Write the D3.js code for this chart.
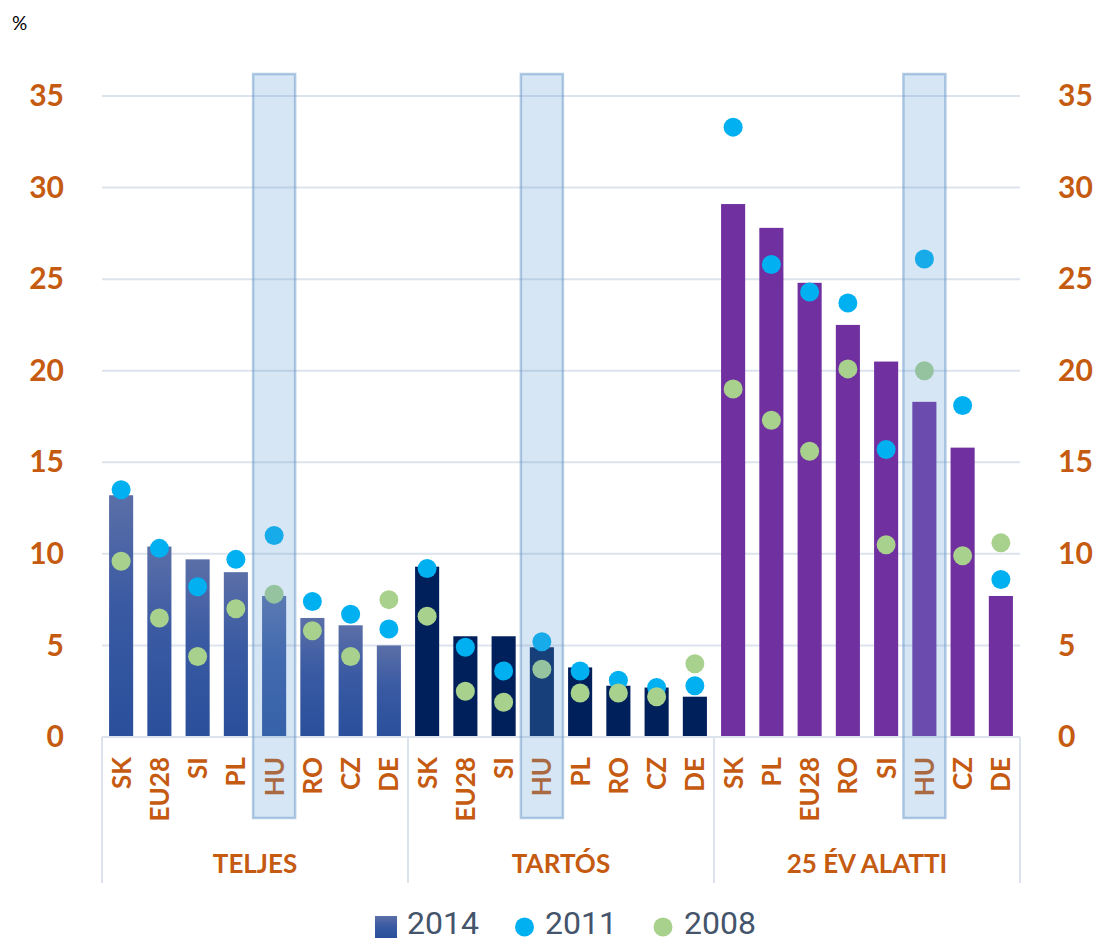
<!DOCTYPE html>
<html>
<head>
<meta charset="utf-8">
<script src="https://cdn.jsdelivr.net/npm/d3@7"></script>
<style>
  body { margin: 0; background: #fff; }
  svg { display: block; }
</style>
</head>
<body>
<div id="container"></div>
<script>
// chart data
const groups = ["TELJES", "TARTÓS", "25 ÉV ALATTI"];
const countriesTeljes = ["SK", "EU28", "SI", "PL", "HU", "RO", "CZ", "DE"];
const countriesTartos = ["SK", "EU28", "SI", "HU", "PL", "RO", "CZ", "DE"];
const countriesYouth = ["SK", "PL", "EU28", "RO", "SI", "HU", "CZ", "DE"];

const values2014 = [13.2, 10.4, 9.7, 9.0, 7.7, 6.5, 6.1, 5.0,
                    9.3, 5.5, 5.5, 4.9, 3.8, 2.8, 2.7, 2.2,
                    29.1, 27.8, 24.8, 22.5, 20.5, 18.3, 15.8, 7.7];
const values2011 = [13.5, 10.3, 8.2, 9.7, 11.0, 7.4, 6.7, 5.9,
                    9.2, 4.9, 3.6, 5.2, 3.6, 3.1, 2.7, 2.8,
                    33.3, 25.8, 24.3, 23.7, 15.7, 26.1, 18.1, 8.6];
const values2008 = [9.6, 6.5, 4.4, 7.0, 7.8, 5.8, 4.4, 7.5,
                    6.6, 2.5, 1.9, 3.7, 2.4, 2.4, 2.2, 4.0,
                    19.0, 17.3, 15.6, 20.1, 10.5, 20.0, 9.9, 10.6];
const yTicks = [0, 5, 10, 15, 20, 25, 30, 35];
const seriesNames = ["2014", "2011", "2008"];
const highlightCountry = "HU";

const width = 1098;
const height = 941;
const margin = { top: 96, bottom: 200, left: 102, right: 78 };

const orange = "#c55a11";
const gridColor = "#dde3ec";
const labelFont = "Lato, 'Open Sans', sans-serif";

const countryLists = [countriesTeljes, countriesTartos, countriesYouth];
const data = [];
countryLists.forEach((list, g) => {
    list.forEach((c, i) => {
        const idx = data.length;
        data.push({
            key: g + "-" + c,
            group: g,
            country: c,
            v2014: values2014[idx],
            v2011: values2011[idx],
            v2008: values2008[idx]
        });
    });
});

const svg = d3.select("#container")
    .append("svg")
    .attr("width", width)
    .attr("height", height)
    .attr("viewBox", [0, 0, width, height]);

const defs = svg.append("defs");
const grad = defs.append("linearGradient")
    .attr("id", "blueGrad")
    .attr("x1", 0).attr("y1", 0).attr("x2", 0).attr("y2", 1);
grad.append("stop").attr("offset", "0%").attr("stop-color", "#5b6fa8");
grad.append("stop").attr("offset", "45%").attr("stop-color", "#3a5aa3");
grad.append("stop").attr("offset", "100%").attr("stop-color", "#2a4f9b");

const x = d3.scaleBand()
    .domain(data.map(d => d.key))
    .range([margin.left, width - margin.right])
    .paddingInner(0.37)
    .paddingOuter(0.185);

const y = d3.scaleLinear()
    .domain([0, 35])
    .range([height - margin.bottom - 4, margin.top]);

const groupScale = d3.scaleBand()
    .domain(d3.range(groups.length))
    .range([margin.left, width - margin.right]);

// gridlines
svg.append("g")
    .attr("class", "grid")
    .selectAll("line")
    .data(yTicks.filter(t => t > 0))
    .join("line")
    .attr("x1", margin.left)
    .attr("x2", width - margin.right)
    .attr("y1", d => y(d))
    .attr("y2", d => y(d))
    .attr("stroke", gridColor)
    .attr("stroke-width", 2);

// left and right y axes
const yLeft = svg.append("g")
    .attr("transform", `translate(${margin.left - 38}, 0)`)
    .call(d3.axisLeft(y).tickValues(yTicks).tickSize(0).tickPadding(0));
const yRight = svg.append("g")
    .attr("transform", `translate(${width - margin.right + 38}, 0)`)
    .call(d3.axisRight(y).tickValues(yTicks).tickSize(0).tickPadding(0));
[yLeft, yRight].forEach(ax => {
    ax.select(".domain").remove();
    ax.selectAll("text")
        .attr("fill", orange)
        .attr("font-family", labelFont)
        .attr("font-weight", "bold")
        .attr("font-size", "30px");
});

svg.append("text")
    .attr("x", 12)
    .attr("y", 30)
    .attr("font-family", labelFont)
    .attr("font-size", "19px")
    .attr("fill", "#000")
    .text("%");

// bars
const barColor = d => d.group === 0 ? "url(#blueGrad)" : (d.group === 1 ? "#00205c" : "#7030a0");
svg.append("g")
    .selectAll("rect")
    .data(data)
    .join("rect")
    .attr("x", d => x(d.key))
    .attr("y", d => y(d.v2014))
    .attr("width", x.bandwidth())
    .attr("height", d => y(0) - y(d.v2014))
    .attr("fill", barColor);

// dots
const cx = d => x(d.key) + x.bandwidth() / 2;
svg.append("g")
    .selectAll("circle")
    .data(data)
    .join("circle")
    .attr("cx", cx)
    .attr("cy", d => y(d.v2011))
    .attr("r", 9.5)
    .attr("fill", "#00b0f0");
svg.append("g")
    .selectAll("circle")
    .data(data)
    .join("circle")
    .attr("cx", cx)
    .attr("cy", d => y(d.v2008))
    .attr("r", 9.5)
    .attr("fill", "#a9d18e");

// category axis
const axisY = y(0);
svg.append("line")
    .attr("x1", margin.left).attr("x2", width - margin.right)
    .attr("y1", axisY).attr("y2", axisY)
    .attr("stroke", gridColor).attr("stroke-width", 2);

svg.append("g")
    .selectAll("line")
    .data(d3.range(groups.length + 1))
    .join("line")
    .attr("x1", i => margin.left + i * groupScale.bandwidth())
    .attr("x2", i => margin.left + i * groupScale.bandwidth())
    .attr("y1", axisY)
    .attr("y2", axisY + 146)
    .attr("stroke", gridColor)
    .attr("stroke-width", 2);

svg.append("g")
    .selectAll("text")
    .data(data)
    .join("text")
    .attr("transform", d => `translate(${cx(d) + 9.5}, ${axisY + 20}) rotate(-90)`)
    .attr("text-anchor", "end")
    .attr("fill", orange)
    .attr("font-family", labelFont)
    .attr("font-weight", "bold")
    .attr("font-size", "26px")
    .text(d => d.country);

svg.append("g")
    .selectAll("text")
    .data(groups)
    .join("text")
    .attr("x", (d, i) => groupScale(i) + groupScale.bandwidth() / 2)
    .attr("y", axisY + 136)
    .attr("text-anchor", "middle")
    .attr("fill", orange)
    .attr("font-family", labelFont)
    .attr("font-weight", "bold")
    .attr("font-size", "26px")
    .text(d => d);

// highlight boxes around HU, drawn on top
const hu = data.filter(d => d.country === highlightCountry);
svg.append("g")
    .selectAll("rect")
    .data(hu)
    .join("rect")
    .attr("x", d => cx(d) - 21)
    .attr("y", 74)
    .attr("width", 42)
    .attr("height", 744)
    .attr("fill", "#5b9bd5")
    .attr("fill-opacity", 0.25)
    .attr("stroke", "#5b8fc5")
    .attr("stroke-opacity", 0.45)
    .attr("stroke-width", 2.5);

// legend
const legend = svg.append("g").attr("transform", "translate(0, 937)");
const legendItems = [
    { name: seriesNames[0], x: 375, textX: 407, kind: "rect" },
    { name: seriesNames[1], x: 524.5, textX: 545, kind: "dot", color: "#00b0f0" },
    { name: seriesNames[2], x: 663, textX: 684, kind: "dot", color: "#a9d18e" }
];
legendItems.forEach(it => {
    if (it.kind === "rect") {
        legend.append("rect")
            .attr("x", it.x).attr("y", -21)
            .attr("width", 22).attr("height", 22)
            .attr("fill", "url(#blueGrad)");
    } else {
        legend.append("circle")
            .attr("cx", it.x).attr("cy", -10)
            .attr("r", 9.5)
            .attr("fill", it.color);
    }
    legend.append("text")
        .attr("x", it.textX)
        .attr("y", -3)
        .attr("fill", "#44546a")
        .attr("font-family", "'Liberation Sans Narrow', 'Roboto', sans-serif")
        .attr("font-size", "32px")
        .text(it.name);
});
</script>
</body>
</html>
